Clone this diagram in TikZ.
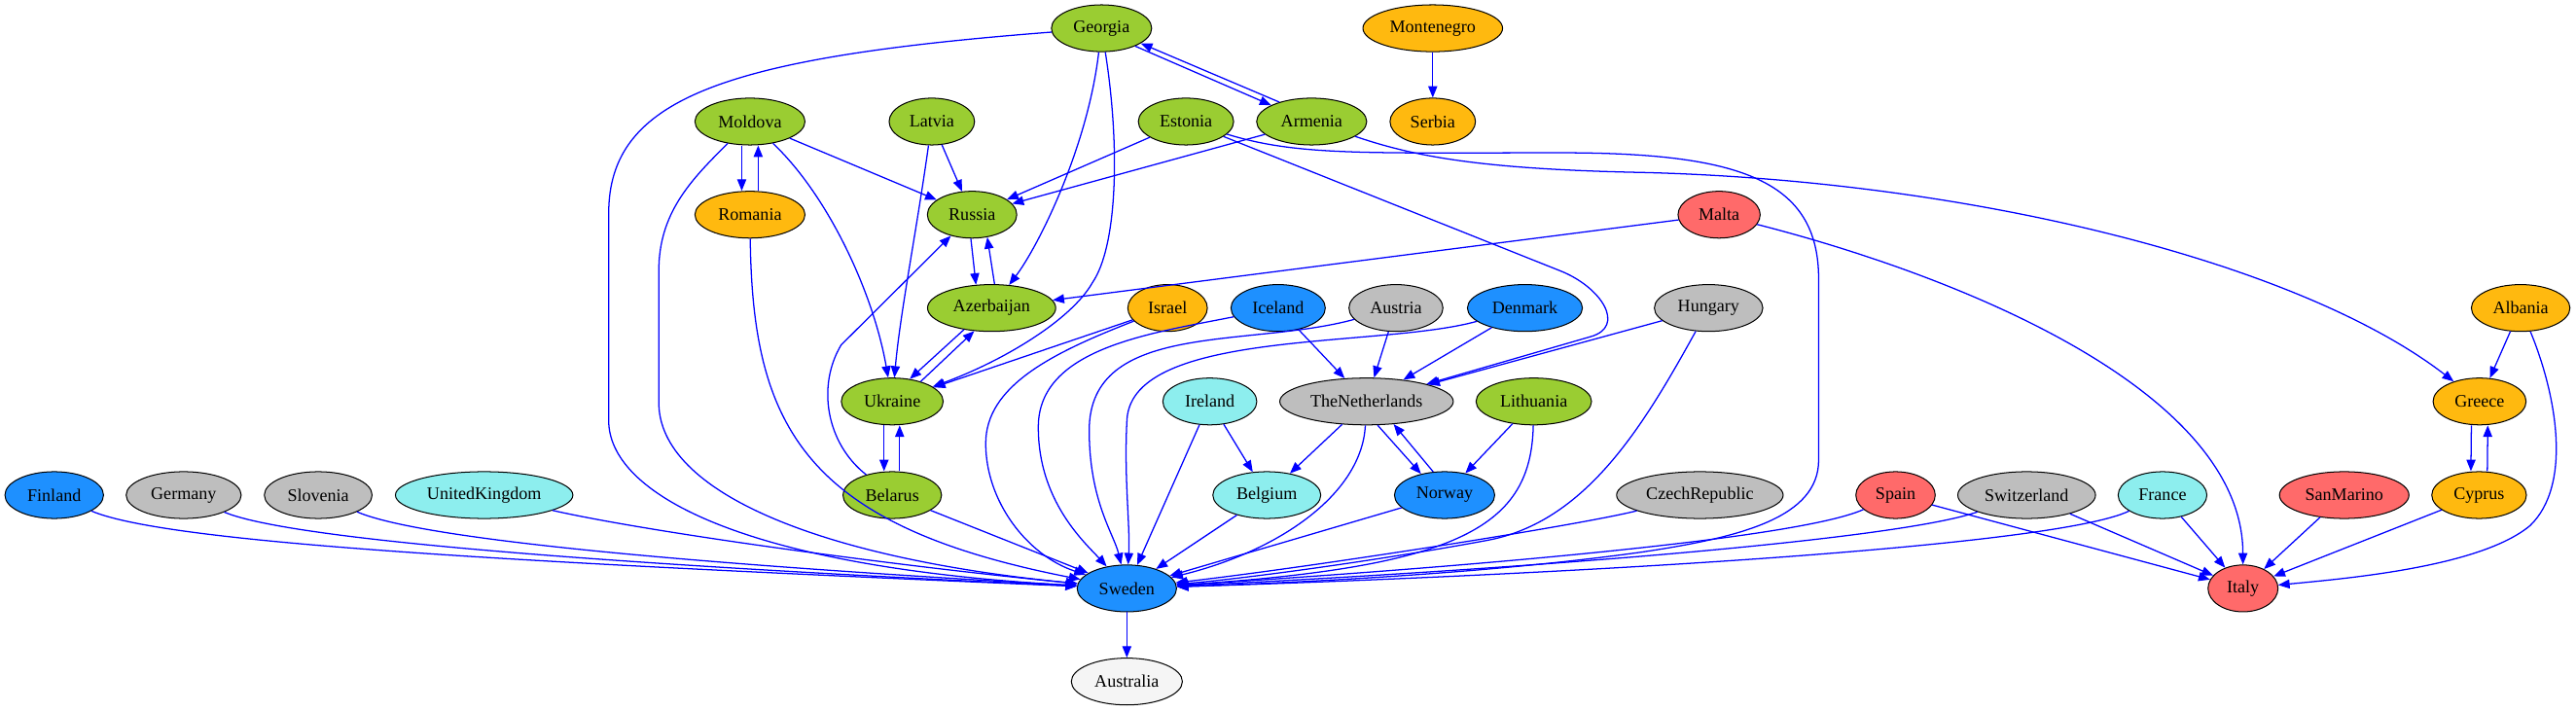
\documentclass[tikz,border=0pt]{standalone}
\usepackage{fontspec}
\setmainfont{Liberation Serif}
\usetikzlibrary{shapes.geometric,arrows.meta}
\definecolor{cgreen}{HTML}{9ACD32}
\definecolor{corange}{HTML}{FFB90F}
\definecolor{cred}{HTML}{FF6A6A}
\definecolor{cgrey}{HTML}{BEBEBE}
\definecolor{ccyan}{HTML}{8DEEEE}
\definecolor{cblue}{HTML}{1E90FF}
\definecolor{cwhite}{HTML}{F5F5F5}
\definecolor{eblue}{HTML}{0000FF}
\begin{document}
\begin{tikzpicture}[x=1pt,y=-1pt,
  country/.style={ellipse,draw=black,line width=0.6pt,inner sep=0pt,minimum height=28.5pt,font=\fontsize{10.7}{12}\selectfont},
  link/.style={draw=eblue,line width=0.75pt,-{Triangle[length=7pt,width=5.5pt]}}]
\useasboundingbox (0,0) rectangle (1568,433);
\fill[white] (0,0) rectangle (1568,433);
% row 1
\node[country,fill=cgreen,minimum width=61pt] (Georgia) at (670.5,17.2) {Georgia};
\node[country,fill=corange,minimum width=85pt] (Montenegro) at (872.1,17.2) {Montenegro};
% row 2
\node[country,fill=cgreen,minimum width=67pt] (Moldova) at (456.5,74) {Moldova};
\node[country,fill=cgreen,minimum width=52pt] (Latvia) at (567.2,74) {Latvia};
\node[country,fill=cgreen,minimum width=58pt] (Estonia) at (721.9,74) {Estonia};
\node[country,fill=cgreen,minimum width=67pt] (Armenia) at (798.4,74) {Armenia};
\node[country,fill=corange,minimum width=52pt] (Serbia) at (872.1,74) {Serbia};
% row 3
\node[country,fill=corange,minimum width=67pt] (Romania) at (456.5,130.7) {Romania};
\node[country,fill=cgreen,minimum width=54.4pt] (Russia) at (591.7,130.7) {Russia};
\node[country,fill=cred,minimum width=50pt] (Malta) at (1046.4,130.7) {Malta};
% row 4
\node[country,fill=cgreen,minimum width=78pt] (Azerbaijan) at (603.6,187.5) {Azerbaijan};
\node[country,fill=corange,minimum width=48.4pt] (Israel) at (710.7,187.5) {Israel};
\node[country,fill=cblue,minimum width=57.4pt] (Iceland) at (778,187.5) {Iceland};
\node[country,fill=cgrey,minimum width=57.2pt] (Austria) at (849.7,187.5) {Austria};
\node[country,fill=cblue,minimum width=70pt] (Denmark) at (928.2,187.5) {Denmark};
\node[country,fill=cgrey,minimum width=66pt] (Hungary) at (1040,187.5) {Hungary};
\node[country,fill=corange,minimum width=60pt] (Albania) at (1534.3,187.5) {Albania};
% row 5
\node[country,fill=cgreen,minimum width=62pt] (Ukraine) at (543.1,244.4) {Ukraine};
\node[country,fill=ccyan,minimum width=57.2pt] (Ireland) at (736.4,244.4) {Ireland};
\node[country,fill=cgrey,minimum width=105.6pt] (TheNetherlands) at (831.8,244.4) {TheNetherlands};
\node[country,fill=cgreen,minimum width=70.3pt] (Lithuania) at (933.6,244.4) {Lithuania};
\node[country,fill=corange,minimum width=56.6pt] (Greece) at (1509.3,244.4) {Greece};
% row 6
\node[country,fill=cblue,minimum width=60pt] (Finland) at (33,301.4) {Finland};
\node[country,fill=cgrey,minimum width=70pt] (Germany) at (111.8,301.4) {Germany};
\node[country,fill=cgrey,minimum width=65.6pt] (Slovenia) at (193.7,301.4) {Slovenia};
\node[country,fill=ccyan,minimum width=108pt] (UnitedKingdom) at (294.7,301.4) {UnitedKingdom};
\node[country,fill=cgreen,minimum width=60pt] (Belarus) at (543.1,301.4) {Belarus};
\node[country,fill=ccyan,minimum width=65.7pt] (Belgium) at (771.1,301.4) {Belgium};
\node[country,fill=cblue,minimum width=61pt] (Norway) at (879.3,301.4) {Norway};
\node[country,fill=cgrey,minimum width=101.4pt] (CzechRepublic) at (1034.7,301.4) {CzechRepublic};
\node[country,fill=cred,minimum width=48.3pt] (Spain) at (1153.8,301.4) {Spain};
\node[country,fill=cgrey,minimum width=83.8pt] (Switzerland) at (1233.6,301.4) {Switzerland};
\node[country,fill=ccyan,minimum width=54pt] (France) at (1316.3,301.4) {France};
\node[country,fill=cred,minimum width=78.8pt] (SanMarino) at (1426.9,301.4) {SanMarino};
\node[country,fill=corange,minimum width=57.6pt] (Cyprus) at (1509,301.4) {Cyprus};
% row 7, 8
\node[country,fill=cblue,minimum width=60.5pt] (Sweden) at (685.9,358.2) {Sweden};
\node[country,fill=cred,minimum width=42.6pt] (Italy) at (1365.3,358.2) {Italy};
\node[country,fill=cwhite,minimum width=67.6pt] (Australia) at (685.9,414.9) {Australia};

% edges
\draw[link] (Georgia) .. controls (440,35) and (370.5,60) .. (370.5,130) -- (370.5,256) .. controls (370.5,300) and (450,345) .. (Sweden);
\draw[link] (Georgia) .. controls (662,90) and (632,150) .. (Azerbaijan);
\draw[link] (Georgia) .. controls (682,90) and (680,150) .. (665,172) .. controls (652,195) and (610,220) .. (Ukraine);
\draw[link] (Georgia.-28) -- (Armenia.158);
\draw[link] (Armenia.149) -- (Georgia.-21);
\draw[link] (Montenegro) -- (Serbia);
\draw[link] ([xshift=-5pt]Moldova.south) -- ([xshift=-5pt]Romania.north);
\draw[link] ([xshift=5pt]Romania.north) -- ([xshift=5pt]Moldova.south);
\draw[link] (Moldova) -- (Russia);
\draw[link] (Moldova) .. controls (505,120) and (532,180) .. (Ukraine);
\draw[link] (Moldova) .. controls (420,110) and (401,130) .. (401,165) -- (401,245) .. controls (401,300) and (500,340) .. (Sweden);
\draw[link] (Romania) .. controls (458,260) and (490,320) .. (Sweden);
\draw[link] (Latvia) -- (Russia);
\draw[link] (Latvia) .. controls (558,140) and (548,190) .. (Ukraine);
\draw[link] (Estonia) -- (Russia);
\draw[link] (Estonia) -- (950,165) .. controls (975,175) and (990,199) .. (968,205) -- (TheNetherlands);
\draw[link] (Estonia) .. controls (790,95) and (830,93) .. (950,93) .. controls (1060,93) and (1107,110) .. (1107,170) -- (1107,280) .. controls (1107,315) and (1060,327) .. (1000,336) .. controls (900,350) and (780,355) .. (Sweden);
\draw[link] (Armenia) -- (Russia);
\draw[link] (Armenia) .. controls (860,95) and (900,103) .. (1000,105) .. controls (1200,110) and (1400,160) .. (Greece);
\draw[link] (Russia.-93) -- (Azerbaijan.124);
\draw[link] (Azerbaijan.83) -- (Russia.-56);
\draw[link] (Malta) -- (Azerbaijan);
\draw[link] (Malta) .. controls (1200,170) and (1365,240) .. (Italy);
\draw[link] (Azerbaijan.-142) -- (Ukraine.52);
\draw[link] (Ukraine.35) -- (Azerbaijan.-127);
\draw[link] (Israel) -- (Ukraine);
\draw[link] (Israel) .. controls (640,215) and (600,235) .. (600,270) .. controls (600,305) and (625,338) .. (Sweden);
\draw[link] (Iceland) -- (TheNetherlands);
\draw[link] (Iceland) .. controls (700,203) and (632,212) .. (632,260) .. controls (632,305) and (660,330) .. (Sweden);
\draw[link] (Austria) -- (TheNetherlands);
\draw[link] (Austria) .. controls (760,212) and (663,195) .. (663,262) .. controls (663,305) and (678,325) .. (Sweden);
\draw[link] (Denmark) -- (TheNetherlands);
\draw[link] (Denmark) .. controls (840,212) and (690,200) .. (686,255) .. controls (684,290) and (688,320) .. (Sweden);
\draw[link] (Hungary) -- (TheNetherlands);
\draw[link] (Hungary) .. controls (1000,260) and (965,318) .. (905,329) .. controls (840,341) and (760,352) .. (Sweden);
\draw[link] (Albania) -- (Greece);
\draw[link] (Albania) .. controls (1556,240) and (1566,295) .. (1540,320) .. controls (1510,345) and (1430,352) .. (Italy);
\draw[link] ([xshift=-5pt]Ukraine.south) -- ([xshift=-5pt]Belarus.north);
\draw[link] ([xshift=4.5pt]Belarus.north) -- ([xshift=4.5pt]Ukraine.south);
\draw[link] (Belarus) .. controls (503,270) and (497,235) .. (512,210) -- (Russia);
\draw[link] (Belarus) -- (Sweden);
\draw[link] (Ireland) -- (Belgium);
\draw[link] (Ireland) -- (Sweden);
\draw[link] (TheNetherlands) -- (Belgium);
\draw[link] (TheNetherlands.-65) -- (Norway.138);
\draw[link] (Norway.116) -- (TheNetherlands.-40);
\draw[link] (TheNetherlands) .. controls (829,300) and (780,335) .. (Sweden);
\draw[link] (Lithuania) -- (Norway);
\draw[link] (Lithuania) .. controls (932,320) and (890,345) .. (Sweden);
\draw[link] ([xshift=-5pt]Greece.south) -- ([xshift=-5pt]Cyprus.north);
\draw[link] ([xshift=5pt]Cyprus.north) -- ([xshift=5pt]Greece.south);
\draw[link] (Belgium) -- (Sweden);
\draw[link] (Norway) -- (Sweden);
\draw[link] (CzechRepublic) .. controls (960,320) and (800,345) .. (Sweden);
\draw[link] (Spain) .. controls (1090,330) and (850,348) .. (Sweden);
\draw[link] (Switzerland) .. controls (1150,330) and (900,348) .. (Sweden);
\draw[link] (France) .. controls (1250,333) and (950,350) .. (Sweden);
\draw[link] (Spain) -- (Italy);
\draw[link] (Switzerland) -- (Italy);
\draw[link] (France) -- (Italy);
\draw[link] (SanMarino) -- (Italy);
\draw[link] (Cyprus) -- (Italy);
\draw[link] (Finland) .. controls (100,330) and (300,342) .. (Sweden);
\draw[link] (Germany) .. controls (180,330) and (400,345) .. (Sweden);
\draw[link] (Slovenia) .. controls (260,330) and (450,345) .. (Sweden);
\draw[link] (UnitedKingdom) .. controls (400,325) and (550,345) .. (Sweden);
\draw[link] (Sweden) -- (Australia);
\end{tikzpicture}
\end{document}
